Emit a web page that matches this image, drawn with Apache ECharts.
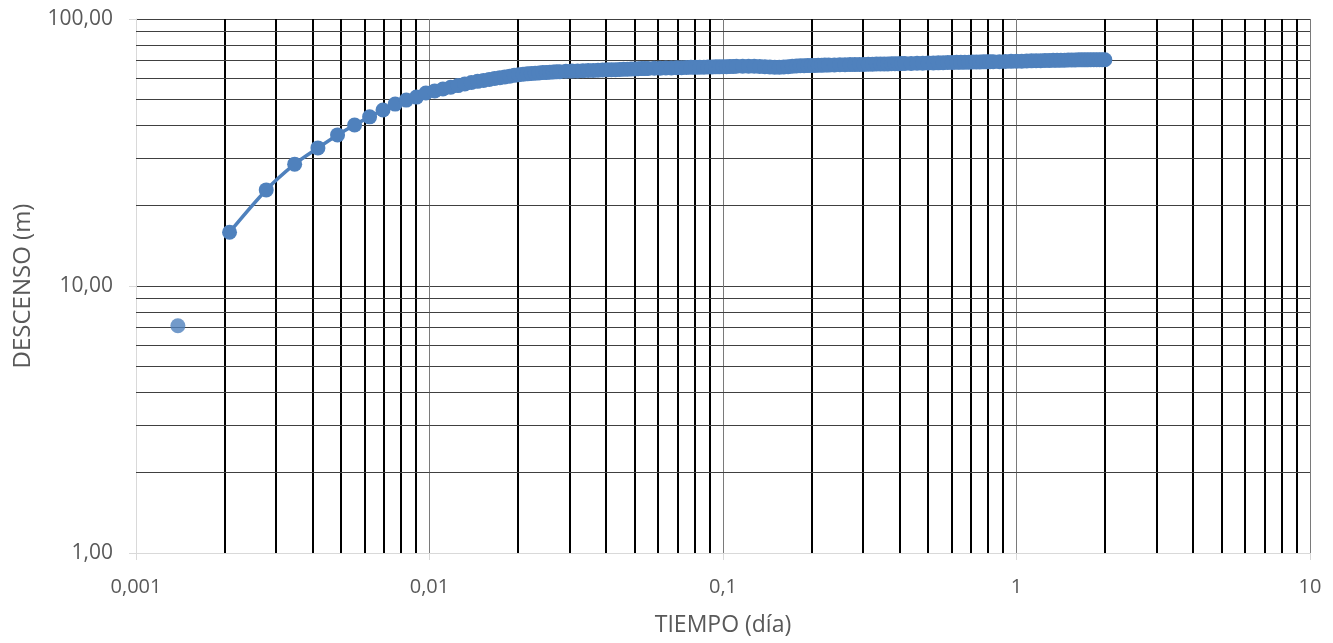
<!DOCTYPE html>
<html>
<head>
<meta charset="utf-8">
<script src="https://cdn.jsdelivr.net/npm/echarts@6/dist/echarts.min.js"></script>
<style>
html,body{margin:0;padding:0;background:#fff;}
#chart{width:1333px;height:643px;}
</style>
</head>
<body>
<div id="chart"></div>
<script>
// ---- DATA ----
// tiempo in days, descenso in metres
const tiempo = [
  0.002083,0.002778,0.003472,0.004167,0.004861,0.005556,0.00625,0.006944,0.007639,0.008333,
  0.009028,0.009722,0.010417,0.011111,0.011806,0.0125,0.013194,0.013889,0.014583,0.015278,
  0.015972,0.016667,0.017361,0.018056,0.01875,0.019444,0.020139,0.020833,0.021528,0.022222,
  0.022917,0.023611,0.024306,0.025,0.025694,0.026389,0.027083,0.027778,
  0.029167,0.030556,0.031944,0.033333,0.034722,0.036111,0.0375,0.038889,0.040278,0.041667,
  0.043056,0.044444,0.045833,0.047222,0.048611,0.05,0.051389,0.052778,0.054167,0.055556,
  0.058333,0.061111,0.063889,0.066667,0.069444,0.072222,0.075,0.077778,0.080556,0.083333,
  0.086111,0.088889,0.091667,0.094444,0.097222,0.1,0.102778,0.105556,0.108333,0.111111,
  0.116667,0.122222,0.127778,0.133333,0.138889,0.144444,0.15,0.155556,0.161111,0.166667,
  0.172222,0.177778,0.183333,0.188889,0.194444,0.2,0.205556,0.211111,0.216667,0.222222,
  0.229167,0.239583,0.25,0.260417,0.270833,0.28125,0.291667,0.302083,0.3125,0.322917,
  0.333333,0.34375,0.354167,0.364583,0.375,0.385417,0.395833,0.40625,0.416667,
  0.4375,0.458333,0.479167,0.5,0.520833,0.541667,0.5625,0.583333,0.604167,0.625,
  0.645833,0.666667,0.6875,0.708333,0.729167,0.75,0.770833,0.791667,0.8125,0.833333,
  0.875,0.916667,0.958333,1.0,1.041667,1.083333,1.125,1.166667,1.208333,1.25,
  1.291667,1.333333,1.375,1.416667,1.458333,1.5,1.541667,1.583333,1.625,1.666667,
  1.708333,1.75,1.791667,1.833333,1.875,1.916667,1.958333,2.0
];
const descenso = [
  15.9,22.9,28.6,32.9,36.8,40.1,43.0,45.6,48.0,49.7,
  51.0,52.8,53.8,54.7,55.5,56.3,57.1,57.8,58.4,58.9,
  59.4,59.9,60.3,60.7,61.1,61.5,61.8,62.1,62.3,62.5,
  62.7,62.8,63.0,63.1,63.2,63.3,63.4,63.5,
  63.7,63.8,63.9,64.0,64.1,64.2,64.3,64.4,64.5,64.6,
  64.6,64.7,64.8,64.9,65.0,65.0,65.1,65.2,65.2,65.3,
  65.4,65.4,65.5,65.6,65.7,65.7,65.8,65.9,65.9,66.0,
  66.0,66.1,66.1,66.2,66.2,66.3,66.3,66.4,66.4,66.5,
  66.5,66.5,66.5,66.4,66.3,66.1,66.0,66.0,66.1,66.3,
  66.6,66.7,66.8,66.8,66.9,67.0,67.0,67.1,67.1,67.2,
  67.2,67.3,67.4,67.4,67.5,67.5,67.6,67.6,67.7,67.7,
  67.8,67.8,67.9,67.9,68.0,68.0,68.0,68.1,68.1,
  68.2,68.3,68.3,68.4,68.4,68.5,68.6,68.7,68.7,68.8,
  68.8,68.9,68.9,69.0,69.0,69.0,69.1,69.1,69.2,69.2,
  69.2,69.3,69.4,69.5,69.5,69.6,69.7,69.8,69.8,69.9,
  69.9,70.0,70.0,70.1,70.1,70.2,70.2,70.2,70.3,70.3,
  70.3,70.3,70.4,70.4,70.4,70.4,70.4,70.4
];
// isolated first reading (not joined to the curve)
const tiempoInicial = [0.001389];
const descensoInicial = [7.1];

const xTickValues = [0.001, 0.01, 0.1, 1, 10];
const xTickLabels = ['0,001', '0,01', '0,1', '1', '10'];
const yTickValues = [1, 10, 100];
const yTickLabels = ['1,00', '10,00', '100,00'];
const xMinorGrid = [0.002,0.003,0.004,0.005,0.006,0.007,0.008,0.009,
                    0.02,0.03,0.04,0.05,0.06,0.07,0.08,0.09,
                    0.2,0.3,0.4,0.5,0.6,0.7,0.8,0.9,
                    2,3,4,5,6,7,8,9];
const yMinorGrid = [2,3,4,5,6,7,8,9,20,30,40,50,60,70,80,90];

const xTitle = 'TIEMPO (día)';
const yTitle = 'DESCENSO (m)';

// ---- CHART ----
function lookup(v, vals, labels) {
  for (let i = 0; i < vals.length; i++) {
    if (Math.abs(Math.log10(v) - Math.log10(vals[i])) < 1e-6) return labels[i];
  }
  return '';
}
const FONT = 'Open Sans';
const TXT = '#595959';
const BLUE = '#4f81bd';

const chart = echarts.init(document.getElementById('chart'), null, {renderer: 'canvas'});
chart.setOption({
  animation: false,
  backgroundColor: '#ffffff',
  grid: {left: 136, right: 23, top: 19, bottom: 90, containLabel: false},
  xAxis: {
    type: 'log', logBase: 10, min: 0.001, max: 10,
    name: xTitle, nameLocation: 'middle', nameGap: 61,
    nameTextStyle: {color: TXT, fontFamily: FONT, fontSize: 23},
    axisLine: {show: true, lineStyle: {color: '#d9d9d9', width: 1}},
    axisTick: {show: true, inside: false, length: 7, lineStyle: {color: '#d9d9d9'}},
    axisLabel: {color: TXT, fontFamily: FONT, fontSize: 20, margin: 24,
      formatter: v => lookup(v, xTickValues, xTickLabels)},
    splitLine: {show: true, showMinLine: false, lineStyle: {color: '#7a7a7a', width: 1}},
    minorTick: {show: false}, minorSplitLine: {show: false}
  },
  yAxis: {
    type: 'log', logBase: 10, min: 1, max: 100,
    name: yTitle, nameLocation: 'middle', nameGap: 101, nameRotate: 90,
    nameTextStyle: {color: TXT, fontFamily: FONT, fontSize: 24},
    axisLine: {show: true, lineStyle: {color: '#d9d9d9', width: 1}},
    axisTick: {show: true, inside: false, length: 7, lineStyle: {color: '#d9d9d9'}},
    axisLabel: {color: TXT, fontFamily: FONT, fontSize: 21, margin: 23,
      formatter: v => lookup(v, yTickValues, yTickLabels)},
    splitLine: {show: true, showMinLine: false, lineStyle: {color: '#404040', width: 1}},
    minorTick: {show: false}, minorSplitLine: {show: false}
  },
  series: [
    {
      type: 'line', data: [], z: 1, silent: true,
      markLine: {
        silent: true, symbol: 'none', animation: false, precision: 8,
        label: {show: false},
        data: xMinorGrid.map(v => ({xAxis: v, lineStyle: {color: '#000000', width: 2, type: 'solid'}}))
          .concat(yMinorGrid.map(v => ({yAxis: v, lineStyle: {color: '#404040', width: 1, type: 'solid'}})))
      }
    },
    {
      type: 'line', z: 5,
      data: tiempo.map((t, i) => [t, descenso[i]]),
      smooth: 0.3,
      symbol: 'circle', symbolSize: 15,
      itemStyle: {color: BLUE},
      lineStyle: {color: BLUE, width: 3.5}
    },
    {
      type: 'scatter', z: 5,
      data: tiempoInicial.map((t, i) => [t, descensoInicial[i]]),
      symbol: 'circle', symbolSize: 15,
      itemStyle: {color: BLUE}
    }
  ]
});
</script>
</body>
</html>
